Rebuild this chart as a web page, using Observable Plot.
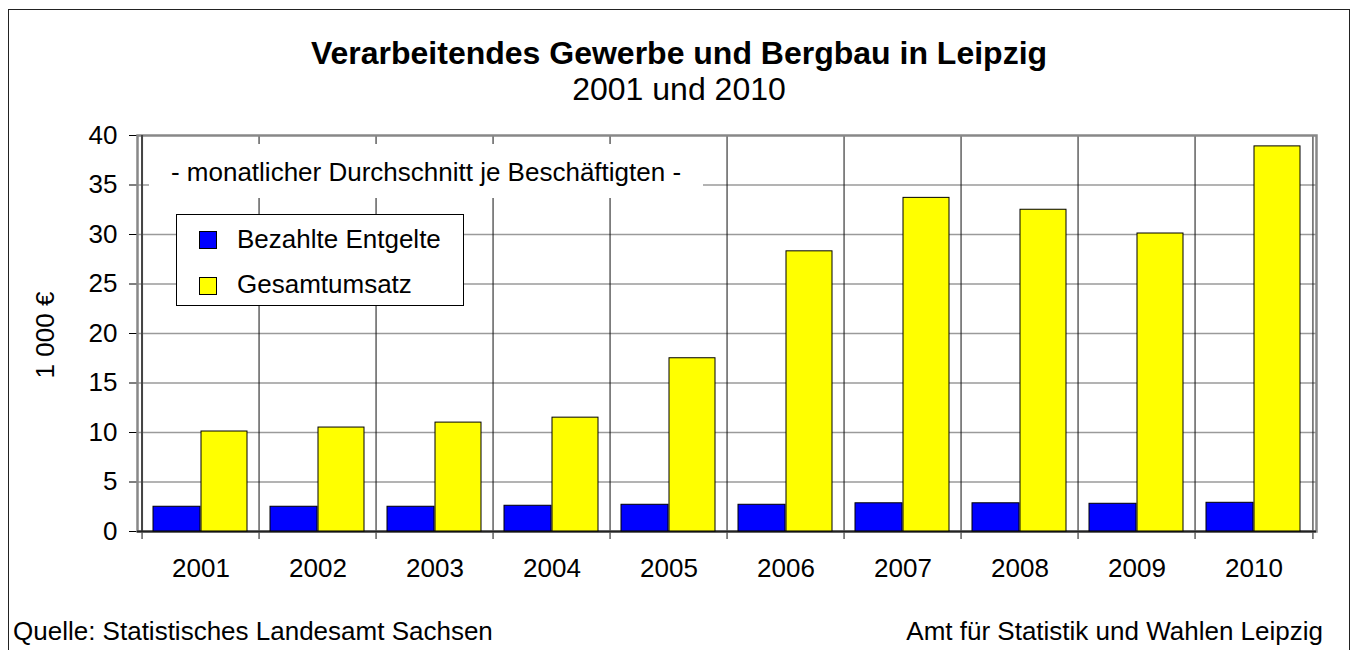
<!DOCTYPE html>
<html>
<head>
<meta charset="utf-8">
<script src="https://cdn.jsdelivr.net/npm/d3@7"></script>
<script src="https://cdn.jsdelivr.net/npm/@observablehq/plot@0.6"></script>
<style>
  html, body { margin: 0; padding: 0; background: #fff; }
  #wrap { position: relative; width: 1353px; height: 650px; overflow: hidden; font-family: "Liberation Sans", Arial, sans-serif; color: #000; }
  #wrap svg { position: absolute; left: 0; top: 0; }
  .abs { position: absolute; white-space: nowrap; }
  .t26 { font-size: 26px; line-height: 26px; }
  .t32 { font-size: 32px; line-height: 32px; }
  .sq { position: absolute; width: 16px; height: 16px; border: 1px solid #000; }
</style>
</head>
<body>
<div id="wrap">
  <div id="chart"></div>
  <div class="abs" style="left:8px;top:9px;width:1340px;height:660px;border:1.5px solid #222;"></div>
  <div class="abs t32" style="left:679px;top:37px;transform:translateX(-50%);font-weight:bold;">Verarbeitendes Gewerbe und Bergbau in Leipzig</div>
  <div class="abs t32" style="left:679px;top:73px;transform:translateX(-50%);">2001 und 2010</div>
  <div class="abs" style="left:149px;top:144px;width:554px;height:54px;background:#fff;"></div>
  <div class="abs t26" style="left:426px;top:159px;transform:translateX(-50%);">- monatlicher Durchschnitt je Beschäftigten -</div>
  <div class="abs" style="left:176px;top:214px;width:286px;height:90px;background:#fff;border:1px solid #000;"></div>
  <div class="sq" style="left:199px;top:231px;background:#0000ff;"></div>
  <div class="abs t26" style="left:237px;top:226px;">Bezahlte Entgelte</div>
  <div class="sq" style="left:199px;top:277px;background:#ffff00;"></div>
  <div class="abs t26" style="left:237px;top:271px;">Gesamtumsatz</div>
  <div class="abs t26" style="left:45px;top:335px;transform:translate(-50%,-50%) rotate(-90deg);">1 000 €</div>
  <div class="abs t26" style="left:13px;top:618px;">Quelle: Statistisches Landesamt Sachsen</div>
  <div class="abs t26" style="right:30px;top:618px;">Amt für Statistik und Wahlen Leipzig</div>
</div>
<script>
const years = ["2001","2002","2003","2004","2005","2006","2007","2008","2009","2010"];
const entgelte = [2.5, 2.5, 2.5, 2.6, 2.7, 2.7, 2.85, 2.85, 2.8, 2.9];
const umsatz = [10.1, 10.5, 11.0, 11.5, 17.5, 28.3, 33.7, 32.5, 30.1, 38.9];
const yTicks = [0, 5, 10, 15, 20, 25, 30, 35, 40];
const seriesNames = ["Bezahlte Entgelte", "Gesamtumsatz"];

const W = 1353, H = 650, mL = 137, mR = 37, mT = 135, mB = 119;
const bw = (W - mL - mR) / years.length;

const dataE = years.map((y, i) => ({year: y, value: entgelte[i], series: seriesNames[0]}));
const dataU = years.map((y, i) => ({year: y, value: umsatz[i], series: seriesNames[1]}));

const chart = Plot.plot({
  width: W, height: H,
  marginTop: mT, marginBottom: mB, marginLeft: mL, marginRight: mR,
  style: {fontFamily: "'Liberation Sans', Arial, sans-serif", fontSize: "26px", background: "transparent", color: "#000", overflow: "visible"},
  x: {domain: years, padding: 0, label: null, tickSize: 0, tickPadding: 27},
  y: {domain: [0, 40], ticks: yTicks, label: null, tickSize: 8, tickPadding: 12, tickFormat: d => String(d)},
  marks: [
    Plot.ruleY(yTicks.filter(d => d > 0 && d < 40), {stroke: "#9a9a9a", strokeWidth: 1.5}),
    Plot.ruleX(years, {dx: -bw / 2, insetBottom: -8, stroke: "#111", strokeWidth: 1}),
    Plot.ruleX([years[years.length - 1]], {dx: bw / 2, insetBottom: -8, stroke: "#111", strokeWidth: 1}),
    Plot.frame({stroke: "#888", strokeWidth: 2.5}),
    Plot.ruleX([years[0]], {dx: -bw / 2, stroke: "#444", strokeWidth: 2}),
    Plot.ruleY([0], {stroke: "#222", strokeWidth: 2}),
    Plot.barY(dataE, {x: "year", y: "value", fill: "#0000ff", stroke: "#000", strokeWidth: 1, insetLeft: 11, insetRight: 59}),
    Plot.barY(dataU, {x: "year", y: "value", fill: "#ffff00", stroke: "#000", strokeWidth: 1, insetLeft: 59, insetRight: 12})
  ]
});
document.getElementById("chart").appendChild(chart);
</script>
</body>
</html>
